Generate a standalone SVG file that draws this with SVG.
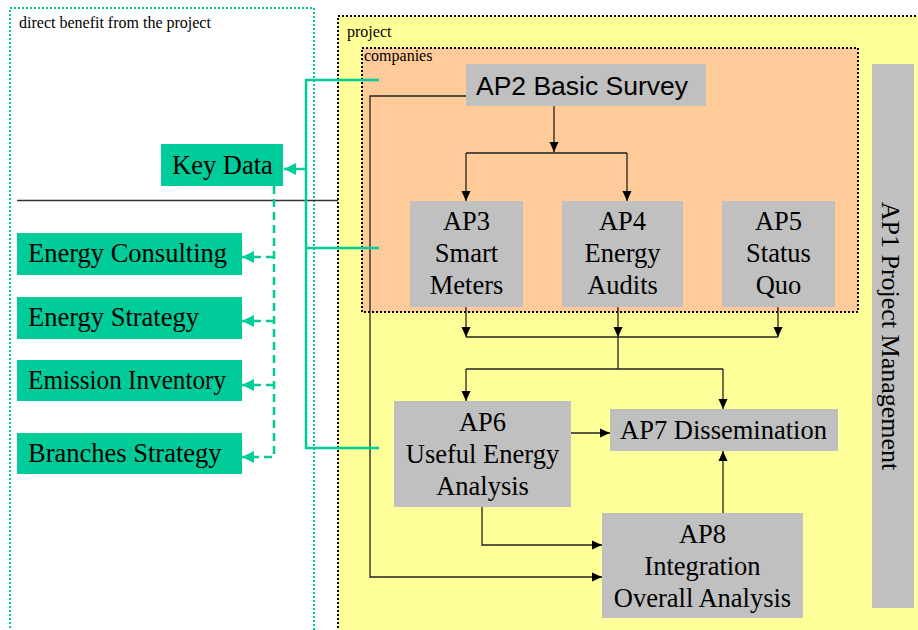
<svg xmlns="http://www.w3.org/2000/svg" width="918" height="630" viewBox="0 0 918 630">
  <defs>
    <marker id="ab" markerUnits="userSpaceOnUse" markerWidth="10" markerHeight="10" refX="10" refY="5" orient="auto" viewBox="0 0 10 10">
      <path d="M0,0.5 L10,5 L0,9.5 z" fill="#000"/>
    </marker>
    <marker id="at" markerUnits="userSpaceOnUse" markerWidth="12" markerHeight="12" refX="12" refY="6" orient="auto" viewBox="0 0 12 12">
      <path d="M0,0 L12,6 L0,12 z" fill="#00CC99"/>
    </marker>
    <style>
      .serif { font-family: "Liberation Serif", "Times New Roman", serif; fill: #000; }
      .lbl { font-size: 26.5px; text-anchor: middle; }
      .small { font-size: 16px; }
      .gray { fill: #C0C0C0; }
      .green { fill: #00CC99; }
      .blk { fill: none; stroke: #222; stroke-width: 1.3; }
      .arr { marker-end: url(#ab); }
      .teal { fill: none; stroke: #00CC99; stroke-width: 2.5; }
      .tdash { fill: none; stroke: #00CC99; stroke-width: 2.5; stroke-dasharray: 8 5; }
    </style>
  </defs>

  <rect width="918" height="630" fill="#fff"/>

  <!-- regions -->
  <g id="region-benefit">
    <rect x="10" y="8" width="304" height="640" fill="none" stroke="#00CC99" stroke-width="2" stroke-dasharray="2 2"/>
    <text class="serif small" x="19" y="28">direct benefit from the project</text>
  </g>
  <g id="region-project">
    <rect x="338" y="16" width="600" height="640" fill="#FFFF99" stroke="#000" stroke-width="2" stroke-dasharray="2 2"/>
    <text class="serif small" x="347" y="37">project</text>
  </g>
  <g id="region-companies">
    <rect x="362" y="48" width="496" height="264" fill="#FFCC99" stroke="#000" stroke-width="2" stroke-dasharray="2 2"/>
    <text class="serif small" x="364" y="61">companies</text>
  </g>

  <line x1="17" y1="200.5" x2="338" y2="200.5" stroke="#333" stroke-width="1.3"/>

  <!-- connectors -->
  <g id="connectors">
    <path class="blk arr" d="M554,106 V152"/>
    <path class="blk" d="M466,153 H627"/>
    <path class="blk arr" d="M466,153 V201"/>
    <path class="blk arr" d="M627,153 V201"/>
    <path class="blk arr" d="M466,307 V337"/>
    <path class="blk arr" d="M618,307 V337"/>
    <path class="blk arr" d="M778,307 V337"/>
    <path class="blk" d="M466,337 H778"/>
    <path class="blk" d="M618,337 V369 M466,369 H723"/>
    <path class="blk arr" d="M466,369 V401"/>
    <path class="blk arr" d="M723,369 V409"/>
    <path class="blk arr" d="M571,433 H610"/>
    <path class="blk arr" d="M723,513 V451"/>
    <path class="blk arr" d="M482,507 V545 H602"/>
    <path class="blk arr" d="M466,96 H370 V577 H602"/>

    <path class="teal" d="M379,80 H306 V448 H379 M379,248 H306"/>
    <path class="teal" d="M306,169 H284" marker-end="url(#at)"/>
    <path class="tdash" d="M274,186 V457 H242" marker-end="url(#at)"/>
    <path class="tdash" d="M274,257 H242" marker-end="url(#at)"/>
    <path class="tdash" d="M274,321 H242" marker-end="url(#at)"/>
    <path class="tdash" d="M274,385 H242" marker-end="url(#at)"/>
  </g>

  <!-- nodes -->
  <g id="ap2">
    <rect class="gray" x="466" y="64" width="240" height="42"/>
    <text x="582" y="95" font-family="'Liberation Sans', Arial, sans-serif" font-size="26.5" text-anchor="middle" fill="#000">AP2 Basic Survey</text>
  </g>
  <g id="ap3">
    <rect class="gray" x="410" y="201" width="113" height="106"/>
    <text class="serif lbl" x="466.5" y="230">AP3</text>
    <text class="serif lbl" x="466.5" y="262">Smart</text>
    <text class="serif lbl" x="466.5" y="294">Meters</text>
  </g>
  <g id="ap4">
    <rect class="gray" x="562" y="201" width="121" height="106"/>
    <text class="serif lbl" x="622.5" y="230">AP4</text>
    <text class="serif lbl" x="622.5" y="262">Energy</text>
    <text class="serif lbl" x="622.5" y="294">Audits</text>
  </g>
  <g id="ap5">
    <rect class="gray" x="722" y="201" width="113" height="106"/>
    <text class="serif lbl" x="778.5" y="230">AP5</text>
    <text class="serif lbl" x="778.5" y="262">Status</text>
    <text class="serif lbl" x="778.5" y="294">Quo</text>
  </g>
  <g id="ap6">
    <rect class="gray" x="394" y="401" width="177" height="106"/>
    <text class="serif lbl" x="482.5" y="431">AP6</text>
    <text class="serif lbl" x="482.5" y="463">Useful Energy</text>
    <text class="serif lbl" x="482.5" y="495">Analysis</text>
  </g>
  <g id="ap7">
    <rect class="gray" x="610" y="409" width="228" height="42"/>
    <text class="serif lbl" x="723.5" y="439">AP7 Dissemination</text>
  </g>
  <g id="ap8">
    <rect class="gray" x="602" y="513" width="201" height="105"/>
    <text class="serif lbl" x="702.5" y="543">AP8</text>
    <text class="serif lbl" x="702.5" y="575">Integration</text>
    <text class="serif lbl" x="702.5" y="607">Overall Analysis</text>
  </g>
  <g id="ap1">
    <rect class="gray" x="872" y="64" width="42" height="544"/>
    <text class="serif" font-size="26" text-anchor="middle" transform="translate(882,336) rotate(90)" x="0" y="0">AP1 Project Management</text>
  </g>

  <g id="key-data">
    <rect class="green" x="161" y="144" width="122" height="42"/>
    <text class="serif" font-size="26.5" x="172" y="174">Key Data</text>
  </g>
  <g id="energy-consulting">
    <rect class="green" x="17" y="233" width="225" height="42"/>
    <text class="serif" font-size="26.5" x="28" y="262">Energy Consulting</text>
  </g>
  <g id="energy-strategy">
    <rect class="green" x="17" y="297" width="225" height="42"/>
    <text class="serif" font-size="26.5" x="28" y="326">Energy Strategy</text>
  </g>
  <g id="emission-inventory">
    <rect class="green" x="17" y="360" width="225" height="41"/>
    <text class="serif" font-size="26.5" x="28" y="389" textLength="198" lengthAdjust="spacingAndGlyphs">Emission Inventory</text>
  </g>
  <g id="branches-strategy">
    <rect class="green" x="17" y="433" width="225" height="41"/>
    <text class="serif" font-size="26.5" x="28" y="462">Branches Strategy</text>
  </g>
</svg>
